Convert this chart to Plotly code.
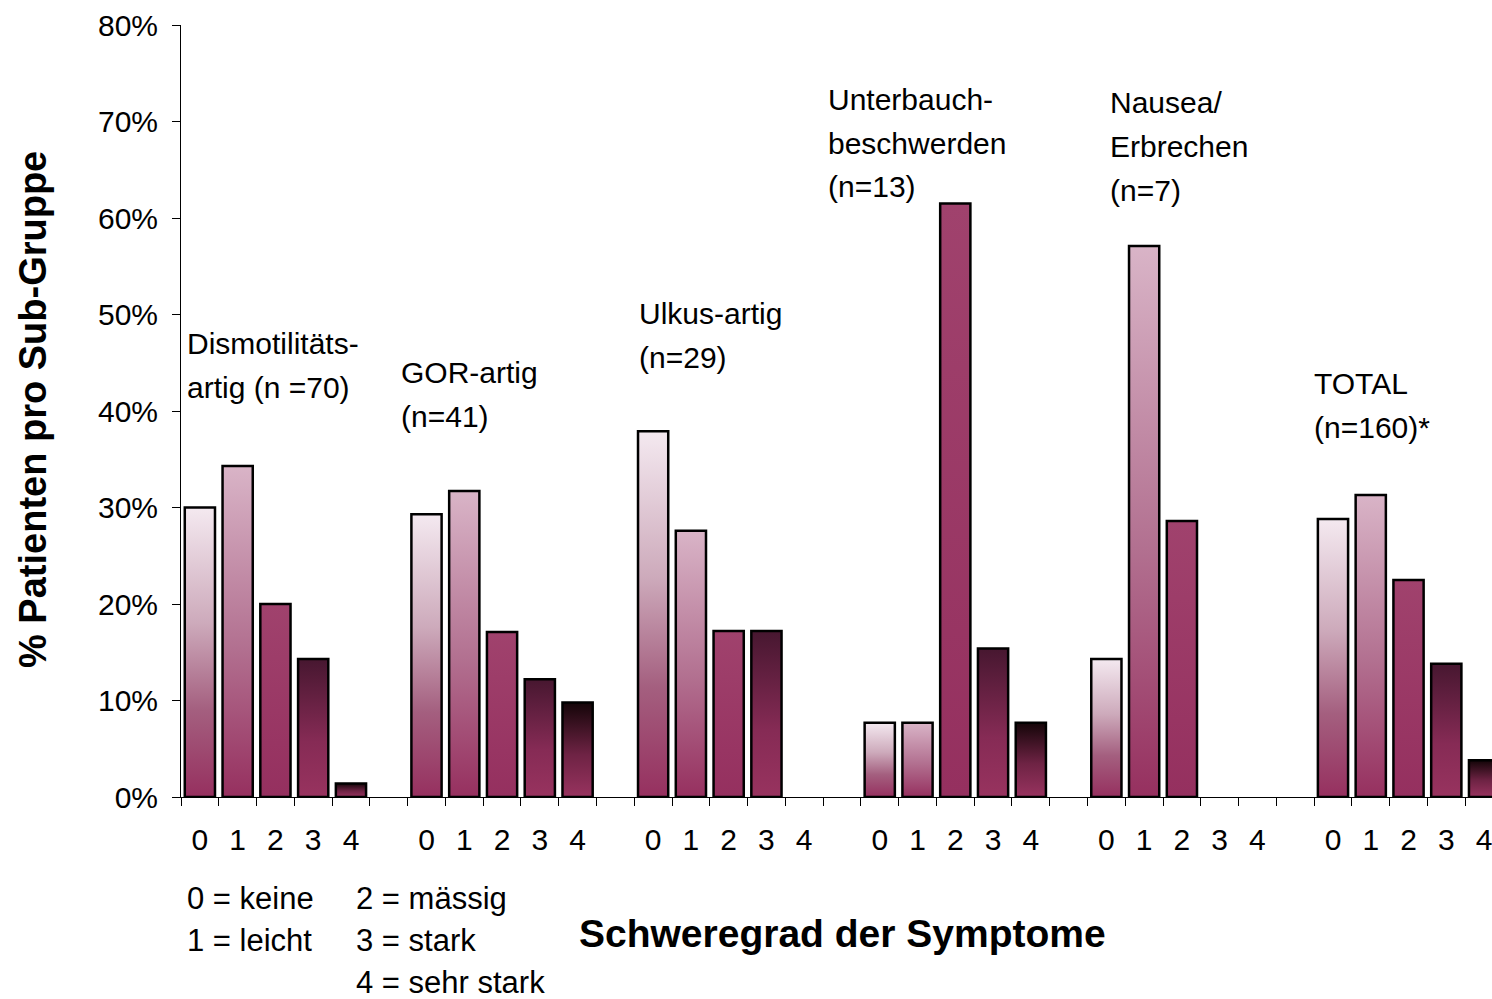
import plotly.graph_objects as go

# ---------------- data ----------------
levels = ["0", "1", "2", "3", "4"]
group_labels = [
    ["Dismotilitäts-", "artig (n =70)"],
    ["GOR-artig", "(n=41)"],
    ["Ulkus-artig", "(n=29)"],
    ["Unterbauch-", "beschwerden", "(n=13)"],
    ["Nausea/", "Erbrechen", "(n=7)"],
    ["TOTAL", "(n=160)*"],
]
dismotilitaet = [30.0, 34.3, 20.0, 14.3, 1.4]
gor = [29.3, 31.7, 17.1, 12.2, 9.8]
ulkus = [37.9, 27.6, 17.2, 17.2, 0.0]
unterbauch = [7.7, 7.7, 61.5, 15.4, 7.7]
nausea = [14.3, 57.1, 28.6, 0.0, 0.0]
total = [28.8, 31.3, 22.5, 13.8, 3.8]
series = [dismotilitaet, gor, ulkus, unterbauch, nausea, total]

y_ticks = [0, 10, 20, 30, 40, 50, 60, 70, 80]
y_ticktext = [f"{v}%" for v in y_ticks]
legend_lines = [["0 = keine", "1 = leicht"], ["2 = mässig", "3 = stark", "4 = sehr stark"]]
x_title = "Schweregrad der Symptome"
y_title = "% Patienten pro Sub-Gruppe"

# ---------------- style ----------------
W_PX, H_PX = 1492, 999
L, R, T, B = 181, 0, 25, 202
PW, PH = W_PX - L - R, H_PX - T - B
SLOT = 37.77
BAR_W = 0.8
FONT = "Liberation Sans, Arial, sans-serif"

level_scales = [
    [[0, "#96305f"], [0.3, "#a45f7f"], [0.6, "#cdaabb"], [1, "#f4e9f0"]],
    [[0, "#96305f"], [0.45, "#b27090"], [1, "#d9b4c7"]],
    [[0, "#95305f"], [1, "#a0426d"]],
    [[0, "#98335f"], [0.4, "#862b55"], [1, "#471730"]],
    [[0, "#98335f"], [0.45, "#6e2344"], [1, "#140508"]],
]

fig = go.Figure()
n_slots_per_group = len(levels) + 1
for g, vals in enumerate(series):
    for k, v in enumerate(vals):
        if v <= 0:
            continue
        xc = n_slots_per_group * g + k
        x0, x1 = xc - BAR_W / 2, xc + BAR_W / 2
        fig.add_trace(go.Scatter(
            x=[x0, x0, x1, x1, x0], y=[0, v, v, 0, 0],
            mode="lines", fill="toself",
            fillgradient=dict(type="vertical", colorscale=level_scales[k]),
            line=dict(color="black", width=2.5),
            showlegend=False, hoverinfo="skip",
        ))

x_max = PW / SLOT - 0.5
n_total_slots = n_slots_per_group * len(series)
major_vals = [n_slots_per_group * g + k for g in range(len(series)) for k in range(len(levels))]
major_text = [levels[k] for g in range(len(series)) for k in range(len(levels))]
minor_vals = [i - 0.5 for i in range(n_total_slots + 1)]

fig.update_xaxes(
    range=[-0.5, x_max], showline=True, linecolor="black", linewidth=1,
    showgrid=False, zeroline=False,
    tickmode="array", tickvals=major_vals, ticktext=major_text,
    ticks="outside", ticklen=16, tickcolor="rgba(0,0,0,0)",
    ticklabeloverflow="allow",
    tickfont=dict(family=FONT, size=30, color="black"),
    minor=dict(tickmode="array", tickvals=minor_vals, ticks="outside",
               ticklen=8, tickwidth=1, tickcolor="black", showgrid=False),
)
fig.update_yaxes(
    range=[0, 80], showline=True, linecolor="black", linewidth=1,
    showgrid=False, zeroline=False,
    tickmode="array", tickvals=y_ticks, ticktext=y_ticktext,
    ticks="outside", ticklen=8, tickwidth=1, tickcolor="black",
    ticklabelstandoff=8,
    tickfont=dict(family=FONT, size=30, color="black"),
)


def px_x(px):
    return (px - L) / PW


def px_y(py):
    return (H_PX - B - py) / PH


annotations = []
label_pos = [(185, 343), (399, 372), (637, 313), (826, 99), (1108, 102), (1312, 383)]
LINE = 44
for lines, (lx, ly) in zip(group_labels, label_pos):
    for i, txt in enumerate(lines):
        annotations.append(dict(
            text=txt, xref="paper", yref="paper", x=px_x(lx), y=px_y(ly + i * LINE),
            xanchor="left", yanchor="middle", showarrow=False,
            font=dict(family=FONT, size=30, color="black")))

for col, (lx, ly) in zip(legend_lines, [(185, 898), (354, 898)]):
    for i, txt in enumerate(col):
        annotations.append(dict(
            text=txt, xref="paper", yref="paper", x=px_x(lx), y=px_y(ly + i * 42),
            xanchor="left", yanchor="middle", showarrow=False,
            font=dict(family=FONT, size=31, color="black")))

annotations.append(dict(
    text=f"<b>{x_title}</b>", xref="paper", yref="paper", x=px_x(842), y=px_y(933),
    xanchor="center", yanchor="middle", showarrow=False,
    font=dict(family=FONT, size=39, color="black")))
annotations.append(dict(
    text=f"<b>{y_title}</b>", xref="paper", yref="paper", x=px_x(33), y=px_y(410),
    xanchor="center", yanchor="middle", showarrow=False, textangle=-90,
    font=dict(family=FONT, size=38, color="black")))

fig.update_layout(
    width=W_PX, height=H_PX,
    margin=dict(l=L, r=R, t=T, b=B, pad=0),
    paper_bgcolor="white", plot_bgcolor="white",
    annotations=annotations, showlegend=False,
)

fig.write_html("out.html", config={"displayModeBar": False},
               post_script="document.body.style.margin='0';document.body.style.overflow='hidden';")
